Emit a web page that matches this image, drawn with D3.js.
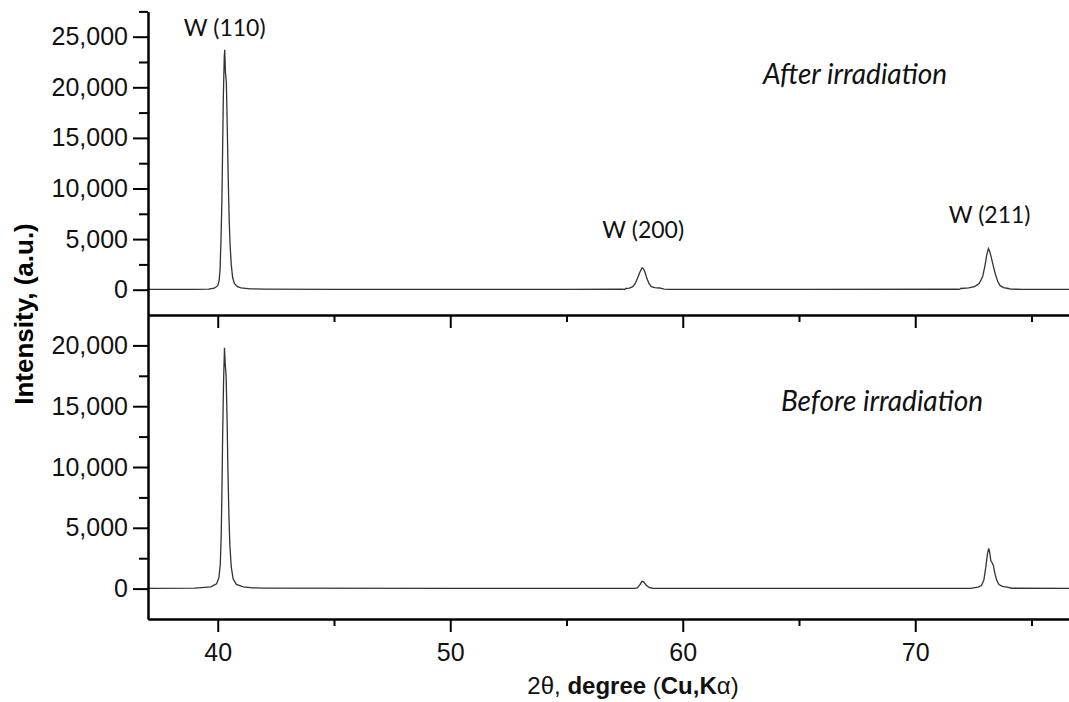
<!DOCTYPE html>
<html>
<head>
<meta charset="utf-8">
<script src="https://cdn.jsdelivr.net/npm/d3@7"></script>
<style>
  body { margin: 0; background: #fff; }
  svg { display: block; }
  .tick text { font-family: "Liberation Sans", Arial, sans-serif; font-size: 25px; fill: #111; }
  .axis path, .axis line { stroke: #000; stroke-width: 2px; }
  .note { font-family: Lato, Calibri, sans-serif; font-size: 23px; fill: #111; }
</style>
</head>
<body>
<div id="chart"></div>
<script>
// 2theta (deg), intensity (a.u.)
var afterIrr = [
  [37.0, 30], [39.0, 40], [39.6, 60], [39.85, 150], [40.00, 400], [40.06, 900],
  [40.10, 2000], [40.14, 5000], [40.18, 9000], [40.21, 14000], [40.24, 19000],
  [40.28, 23000], [40.30, 23700], [40.33, 21500], [40.37, 20500], [40.41, 16000],
  [40.45, 11000], [40.49, 7000], [40.53, 4500], [40.58, 2500], [40.64, 1200],
  [40.72, 600], [40.85, 300], [41.0, 180], [41.4, 90], [42.0, 60], [45.0, 40],
  [50.0, 30], [55.0, 40], [57.40, 50], [57.50, 20], [57.55, 120], [57.70, 150],
  [57.85, 300], [57.95, 600], [58.05, 1100], [58.15, 1700], [58.25, 2150],
  [58.30, 2100], [58.38, 1700], [58.46, 1100], [58.55, 600], [58.65, 300],
  [58.80, 200], [59.00, 170], [59.20, 60], [59.40, 40], [65.0, 40], [71.80, 50],
  [71.90, 30], [71.95, 120], [72.30, 180], [72.55, 300], [72.75, 600],
  [72.90, 1300], [73.00, 2400], [73.08, 3500], [73.15, 4050], [73.20, 3800],
  [73.27, 3200], [73.35, 2400], [73.45, 1500], [73.55, 800], [73.65, 400],
  [73.80, 200], [74.00, 120], [74.10, 50], [74.60, 40], [77.0, 30]
];

var beforeIrr = [
  [37.0, 20], [39.0, 40], [39.3, 80], [39.7, 150], [39.95, 400], [40.05, 900],
  [40.11, 2000], [40.15, 4500], [40.18, 8000], [40.21, 12500], [40.25, 17000],
  [40.29, 19800], [40.32, 18500], [40.36, 17500], [40.40, 14000], [40.44, 9500],
  [40.48, 6000], [40.52, 3600], [40.58, 1800], [40.66, 800], [40.80, 350],
  [41.10, 150], [41.50, 60], [42.0, 40], [50.0, 20], [57.9, 20], [58.05, 60],
  [58.15, 300], [58.25, 600], [58.32, 550], [58.42, 300], [58.55, 100],
  [58.70, 30], [65.0, 20], [72.40, 20], [72.50, 60], [72.70, 120], [72.85, 250],
  [72.95, 700], [73.03, 1700], [73.10, 2800], [73.16, 3300], [73.20, 3000],
  [73.25, 2300], [73.30, 2150], [73.36, 1900], [73.42, 1300], [73.50, 700],
  [73.60, 330], [73.75, 180], [73.95, 120], [74.15, 30], [77.0, 20]
];

var xMajor = [40, 50, 60, 70];
var xMinor = [45, 55, 65, 75];
var yTopMajor = [0, 5000, 10000, 15000, 20000, 25000];
var yTopMinor = [2500, 7500, 12500, 17500, 22500, 27500];
var yBotMajor = [0, 5000, 10000, 15000, 20000];
var yBotMinor = [2500, 7500, 12500, 17500];

// peak labels: [2theta, intensity, text]
var topPeaks = [[40.3, 25070, "W (110)"], [58.3, 5100, "W (200)"], [73.2, 6600, "W (211)"]];

var width = 1069, height = 702;
var left = 148, mid = 315, bottom = 619;

var svg = d3.select("#chart").append("svg")
    .attr("width", width)
    .attr("height", height);

var x = d3.scaleLinear().domain([37, 77]).range([left, left + 40 * 23.25]);
var yTop = d3.scaleLinear().domain([-2500, 27500]).range([mid, 11.4]);
var yBot = d3.scaleLinear().domain([-2500, 22500]).range([bottom, mid]);

function yAxis(g, scale, major, minor) {
    g.append("g").attr("class", "axis")
        .call(d3.axisLeft(scale).tickValues(minor).tickSize(9).tickFormat("").tickSizeOuter(0));
    g.append("g").attr("class", "axis")
        .call(d3.axisLeft(scale).tickValues(major).tickSize(15).tickPadding(5)
            .tickFormat(d3.format(",")).tickSizeOuter(0));
}

function xAxis(g, labels) {
    g.append("g").attr("class", "axis")
        .call(d3.axisBottom(x).tickValues(xMinor).tickSize(7).tickFormat("").tickSizeOuter(0));
    g.append("g").attr("class", "axis")
        .call(d3.axisBottom(x).tickValues(xMajor).tickSize(13).tickPadding(11)
            .tickFormat(labels ? d3.format("d") : "").tickSizeOuter(0));
}

var line = function (ys) {
    return d3.line().x(function (d) { return x(d[0]); }).y(function (d) { return ys(d[1]); });
};

// curves
svg.append("path").datum(afterIrr)
    .attr("d", line(yTop))
    .attr("fill", "none").attr("stroke", "#333").attr("stroke-width", 1.3);

svg.append("path").datum(beforeIrr)
    .attr("d", line(yBot))
    .attr("fill", "none").attr("stroke", "#333").attr("stroke-width", 1.3);

// axes
yAxis(svg.append("g").attr("transform", "translate(" + left + ",0)"), yTop, yTopMajor, yTopMinor);
yAxis(svg.append("g").attr("transform", "translate(" + left + ",0)"), yBot, yBotMajor, yBotMinor);
xAxis(svg.append("g").attr("transform", "translate(0," + mid + ")"), false);
xAxis(svg.append("g").attr("transform", "translate(0," + bottom + ")"), true);

// peak labels
svg.selectAll(".peak")
    .data(topPeaks)
    .enter()
    .append("text")
    .attr("class", "note")
    .attr("x", function (d) { return x(d[0]); })
    .attr("y", function (d) { return yTop(d[1]); })
    .attr("text-anchor", "middle")
    .text(function (d) { return d[2]; });

svg.append("text").attr("class", "note")
    .attr("x", 855).attr("y", 84)
    .attr("text-anchor", "middle")
    .style("font-style", "italic").style("font-size", "28px")
    .text("After irradiation");

svg.append("text").attr("class", "note")
    .attr("x", 882).attr("y", 411)
    .attr("text-anchor", "middle")
    .style("font-style", "italic").style("font-size", "28px")
    .text("Before irradiation");

// axis titles
svg.append("text")
    .attr("transform", "translate(33,314) rotate(-90)")
    .attr("text-anchor", "middle")
    .style("font-family", "'Liberation Sans', Arial, sans-serif")
    .style("font-size", "26px")
    .style("font-weight", "bold")
    .text("Intensity, (a.u.)");

var xt = svg.append("text")
    .attr("x", 633).attr("y", 694)
    .attr("text-anchor", "middle")
    .style("font-family", "'Liberation Sans', Arial, sans-serif")
    .style("font-size", "24px")
    .style("fill", "#111");
xt.append("tspan").text("2\u03b8, ");
xt.append("tspan").style("font-weight", "bold").text("degree ");
xt.append("tspan").text("(");
xt.append("tspan").style("font-weight", "bold").text("Cu,K");
xt.append("tspan").text("\u03b1)");
</script>
</body>
</html>
